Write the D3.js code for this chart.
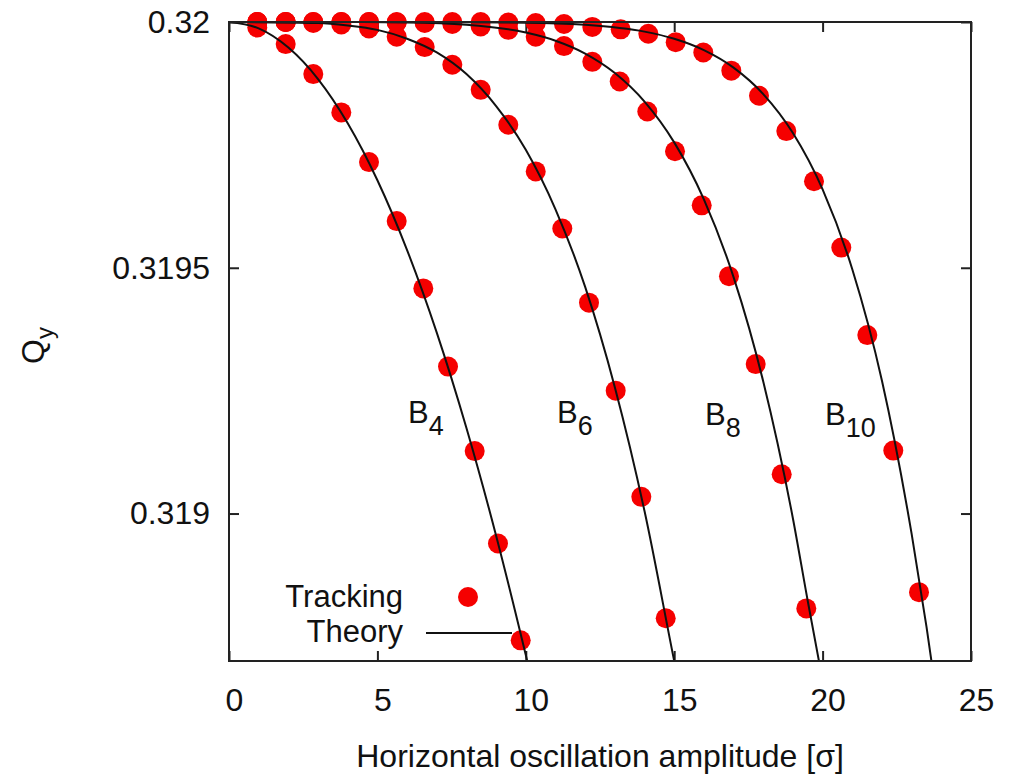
<!DOCTYPE html>
<html>
<head>
<meta charset="utf-8">
<script src="https://cdnjs.cloudflare.com/ajax/libs/d3/7.8.5/d3.min.js"></script>
<style>
body { margin: 0; background: #fff; }
svg text { font-family: "Liberation Sans", Arial, sans-serif; fill: #111; }
</style>
</head>
<body>
<svg></svg>
<script>
const width = 1011;
const height = 779;

// axes
const xTicks = [0, 5, 10, 15, 20, 25];
const yTicks = [0.319, 0.3195, 0.32];
const xTitle = "Horizontal oscillation amplitude [\u03c3]";

// tracking points
const trackB4X = [0.953, 1.910, 2.840, 3.784, 4.717, 5.650, 6.547, 7.379, 8.278, 9.063, 9.828];
const trackB4Q = [0.319989, 0.319955, 0.319894, 0.319816, 0.319715, 0.319595, 0.319458, 0.319299, 0.319127, 0.318939, 0.318742];

const trackB6X = [0.953, 1.910, 2.840, 3.784, 4.717, 5.650, 6.594, 7.524, 8.480, 9.410, 10.334, 11.230, 12.129, 13.029, 13.892, 14.714];
const trackB6Q = [0.32, 0.32, 0.319998, 0.319995, 0.319987, 0.319970, 0.319949, 0.319913, 0.319862, 0.319791, 0.319696, 0.319580, 0.319429, 0.319250, 0.319034, 0.318787];

const trackB8X = [0.953, 1.910, 2.840, 3.784, 4.717, 5.650, 6.594, 7.524, 8.480, 9.410, 10.334, 11.287, 12.241, 13.164, 14.094, 15.027, 15.927, 16.846, 17.746, 18.622, 19.451];
const trackB8Q = [0.32, 0.32, 0.32, 0.32, 0.32, 0.319999, 0.319998, 0.319996, 0.319991, 0.319984, 0.319970, 0.319951, 0.319919, 0.319879, 0.319818, 0.319737, 0.319627, 0.319483, 0.319304, 0.319080, 0.318807];

const trackB10X = [0.953, 1.910, 2.840, 3.784, 4.717, 5.650, 6.594, 7.524, 8.480, 9.410, 10.334, 11.287, 12.241, 13.197, 14.128, 15.050, 15.980, 16.924, 17.857, 18.777, 19.710, 20.630, 21.506, 22.382, 23.248];
const trackB10Q = [0.32, 0.32, 0.32, 0.32, 0.32, 0.32, 0.32, 0.32, 0.32, 0.319999, 0.319998, 0.319996, 0.319990, 0.319985, 0.319976, 0.319959, 0.319938, 0.319901, 0.319850, 0.319778, 0.319676, 0.319541, 0.319363, 0.319128, 0.318840];

// theory curves
const theoryB4X = [0, 1, 2, 3, 4, 5, 6, 7, 8, 9, 10, 10.3];
const theoryB4Q = [0.32, 0.319987, 0.319948, 0.319884, 0.319794, 0.319678, 0.319536, 0.319368, 0.319174, 0.318955, 0.318712, 0.318636];

const theoryB6X = [0, 3, 4, 5, 6, 7, 8, 9, 10, 11, 12, 13, 14, 15, 15.2];
const theoryB6Q = [0.32, 0.319998, 0.319993, 0.319984, 0.319966, 0.319938, 0.319894, 0.319829, 0.319740, 0.319619, 0.319461, 0.319257, 0.319005, 0.318700, 0.318640];

const theoryB8X = [0, 4, 6, 8, 10, 11, 12, 13, 14, 15, 16, 17, 18, 19, 19.5, 20];
const theoryB8Q = [0.32, 0.3199999, 0.319999, 0.3199944, 0.3199785, 0.3199619, 0.3199358, 0.3198962, 0.3198381, 0.3197551, 0.3196393, 0.3194810, 0.3192687, 0.3189900, 0.3188220, 0.318660];

const theoryB10X = [0, 5, 10, 12, 14, 15, 16, 17, 18, 19, 20, 21, 22, 23, 23.5, 24];
const theoryB10Q = [0.32, 0.32, 0.3199987, 0.3199943, 0.3199804, 0.3199659, 0.3199429, 0.3199072, 0.3198534, 0.3197741, 0.3196595, 0.3194970, 0.3192702, 0.3189585, 0.3187700, 0.318560];

// curve labels
const labelMain = ["B", "B", "B", "B"];
const labelSub = ["4", "6", "8", "10"];
const labelX = [6.03, 11.05, 16.04, 20.08];
const labelQ = [0.319184, 0.319184, 0.31918, 0.31918];

const legendNames = ["Tracking", "Theory"];

const margin = {left: 229, right: 40, top: 22, bottom: 118};

const svg = d3.select('svg')
    .attr('width', width).attr('height', height);

const x = d3.scaleLinear().domain([0, 25]).range([margin.left, width - margin.right]);
const y = d3.scaleLinear().domain([0.3187, 0.32]).range([height - margin.bottom, margin.top]);

const tracking = [
    {x: trackB4X, q: trackB4Q},
    {x: trackB6X, q: trackB6Q},
    {x: trackB8X, q: trackB8Q},
    {x: trackB10X, q: trackB10Q}
];
const theory = [
    {x: theoryB4X, q: theoryB4Q},
    {x: theoryB6X, q: theoryB6Q},
    {x: theoryB8X, q: theoryB8Q},
    {x: theoryB10X, q: theoryB10Q}
];

svg.append('defs').append('clipPath').attr('id', 'plotclip')
    .append('rect')
    .attr('x', x(0)).attr('y', y(0.32))
    .attr('width', x(25) - x(0)).attr('height', y(0.3187) - y(0.32));

// axes with inward ticks, mirrored
const fmt = d => String(d);
const xAxis = svg.append('g')
    .attr('transform', `translate(0,${y(0.3187)})`)
    .call(d3.axisBottom(x).tickValues(xTicks).tickFormat(fmt).tickSizeInner(-10).tickSizeOuter(0).tickPadding(27));
xAxis.selectAll('text').attr('dx', 5).style('font-size', '32px');

const yAxis = svg.append('g')
    .attr('transform', `translate(${x(0)},0)`)
    .call(d3.axisLeft(y).tickValues(yTicks).tickFormat(fmt).tickSizeInner(-10).tickSizeOuter(0).tickPadding(19));
yAxis.selectAll('text').style('font-size', '32px');

svg.append('g')
    .attr('transform', `translate(0,${y(0.32)})`)
    .call(d3.axisTop(x).tickValues(xTicks).tickFormat('').tickSizeInner(-10).tickSizeOuter(0));
svg.append('g')
    .attr('transform', `translate(${x(25)},0)`)
    .call(d3.axisRight(y).tickValues(yTicks).tickFormat('').tickSizeInner(-10).tickSizeOuter(0));

svg.selectAll('.domain').remove();
svg.selectAll('.tick line').attr('stroke', '#222').attr('stroke-width', 2);

// tracking dots
const dotGroup = svg.append('g');
tracking.forEach(s => {
    dotGroup.selectAll(null)
        .data(d3.zip(s.x, s.q))
        .enter().append('circle')
        .attr('cx', d => x(d[0]))
        .attr('cy', d => y(d[1]))
        .attr('r', 10)
        .attr('fill', '#f50000');
});

// theory lines
const line = d3.line()
    .x(d => x(d[0]))
    .y(d => y(d[1]))
    .curve(d3.curveMonotoneX);
svg.append('g').attr('clip-path', 'url(#plotclip)')
    .selectAll('path')
    .data(theory)
    .enter().append('path')
    .attr('d', s => line(d3.zip(s.x, s.q)))
    .attr('fill', 'none')
    .attr('stroke', '#111')
    .attr('stroke-width', 2);

// frame
svg.append('rect')
    .attr('x', x(0)).attr('y', y(0.32))
    .attr('width', x(25) - x(0)).attr('height', y(0.3187) - y(0.32))
    .attr('fill', 'none')
    .attr('stroke', '#222')
    .attr('stroke-width', 2);

// curve labels
labelMain.forEach((m, i) => {
    const t = svg.append('text')
        .attr('x', x(labelX[i]))
        .attr('y', y(labelQ[i]))
        .style('font-size', '31px');
    t.append('tspan').text(m);
    t.append('tspan').attr('dy', 12).style('font-size', '27px').text(labelSub[i]);
});

// legend
svg.append('text')
    .attr('x', 403).attr('y', 607)
    .attr('text-anchor', 'end')
    .style('font-size', '31px')
    .text(legendNames[0]);
svg.append('circle')
    .attr('cx', 468).attr('cy', 597).attr('r', 10)
    .attr('fill', '#f50000');
svg.append('text')
    .attr('x', 403).attr('y', 642)
    .attr('text-anchor', 'end')
    .style('font-size', '31px')
    .text(legendNames[1]);
svg.append('line')
    .attr('x1', 426).attr('x2', 512)
    .attr('y1', 633).attr('y2', 633)
    .attr('stroke', '#111').attr('stroke-width', 2);

// axis titles
svg.append('text')
    .attr('x', (x(0) + x(25)) / 2)
    .attr('y', 767)
    .attr('text-anchor', 'middle')
    .style('font-size', '32px')
    .text(xTitle);

const yTitle = svg.append('text')
    .attr('transform', 'translate(44,364) rotate(-90)')
    .style('font-size', '32px');
yTitle.append('tspan').text('Q');
yTitle.append('tspan').attr('dy', 9).style('font-size', '24px').text('y');
</script>
</body>
</html>
